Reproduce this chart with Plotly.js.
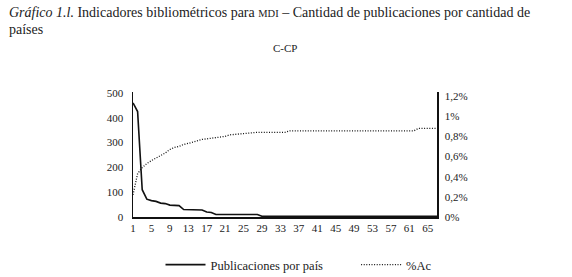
<!DOCTYPE html>
<html>
<head>
<meta charset="utf-8">
<script src="https://cdn.plot.ly/plotly-3.0.1.min.js"></script>
<style>html,body{margin:0;padding:0;background:#fff;}#chart{width:572px;height:277px;}</style>
</head>
<body>
<div id="chart"></div>
<script>
// Countries (rank index)
var countries = [];
for (var i = 1; i <= 67; i++) countries.push(i);

// Publications per country
var publicaciones = [460, 425, 110, 72, 66, 63, 56, 54, 48, 47,
  46, 30, 30, 30, 30, 28, 20, 18, 10, 10,
  10, 10, 10, 10, 10, 10, 10, 10, 3, 3,
  3, 3, 3, 3, 3, 3, 3, 3, 3, 3,
  3, 3, 3, 3, 3, 3, 3, 3, 3, 3,
  3, 3, 3, 3, 3, 3, 3, 3, 3, 3,
  3, 3, 3, 3, 3, 3, 3];

// Cumulative % (right axis)
var pctAc = [0.22, 0.43, 0.49, 0.53, 0.56, 0.585, 0.605, 0.635, 0.67, 0.69,
  0.70, 0.72, 0.73, 0.745, 0.755, 0.77, 0.775, 0.78, 0.79, 0.79,
  0.80, 0.815, 0.82, 0.82, 0.83, 0.835, 0.84, 0.84, 0.84, 0.84,
  0.84, 0.84, 0.84, 0.84, 0.855, 0.855, 0.855, 0.855, 0.855, 0.855,
  0.855, 0.855, 0.855, 0.855, 0.855, 0.855, 0.855, 0.855, 0.855, 0.855,
  0.855, 0.855, 0.855, 0.855, 0.855, 0.855, 0.855, 0.855, 0.855, 0.855,
  0.855, 0.855, 0.88, 0.88, 0.88, 0.88, 0.88];

var xTicks = [1, 5, 9, 13, 17, 21, 25, 29, 33, 37, 41, 45, 49, 53, 57, 61, 65];
var yLeftTicks = [0, 100, 200, 300, 400, 500];
var yRightTicks = [0, 0.2, 0.4, 0.6, 0.8, 1.0, 1.2];
var yRightLabels = ['0%', '0,2%', '0,4%', '0,6%', '0,8%', '1%', '1,2%'];

var serif = 'Liberation Serif, Times New Roman, serif';
var pad = '\u00a0\u00a0\u00a0\u00a0\u00a0\u00a0\u00a0\u00a0\u00a0';

var traces = [
  {x: countries, y: publicaciones, type: 'scatter', mode: 'lines',
   name: 'Publicaciones por país' + pad, line: {color: '#111', width: 1.6}, yaxis: 'y'},
  {x: countries, y: pctAc, type: 'scatter', mode: 'lines',
   name: '%Ac', line: {color: '#111', width: 1.3, dash: '1px,1.6px'}, yaxis: 'y2'}
];

var layout = {
  width: 572, height: 277,
  margin: {l: 133, r: 135, t: 92, b: 60},
  paper_bgcolor: '#fff', plot_bgcolor: '#fff',
  font: {family: serif, color: '#222', size: 11},
  annotations: [{
    text: '<i>Gráfico 1.l.</i> Indicadores bibliométricos para <span style="font-size:10.5px">MDI</span> – Cantidad de publicaciones por cantidad de',
    xref: 'paper', yref: 'paper', x: (7 - 133) / 304, y: (217 - 12) / 125,
    xanchor: 'left', yanchor: 'middle', showarrow: false,
    font: {family: serif, size: 14, color: '#222'}
  }, {
    text: 'países',
    xref: 'paper', yref: 'paper', x: (7 - 133) / 304, y: (217 - 29) / 125,
    xanchor: 'left', yanchor: 'middle', showarrow: false,
    font: {family: serif, size: 14, color: '#222'}
  }, {
    text: 'C-CP', xref: 'paper', yref: 'paper', x: 0.5, y: (217 - 48) / 125,
    xanchor: 'center', yanchor: 'middle', showarrow: false,
    font: {family: serif, size: 11, color: '#222'}
  }],
  xaxis: {
    range: [1, 67], tickvals: xTicks, ticktext: xTicks.map(String), automargin: false,
    showgrid: false, zeroline: false, showline: true, linecolor: '#111', linewidth: 1.5,
    ticks: '', tickfont: {family: serif, size: 11, color: '#222'}, fixedrange: true
  },
  yaxis: {
    range: [0, 504], tickvals: yLeftTicks, ticktext: yLeftTicks.map(String), automargin: false,
    showgrid: false, zeroline: false, showline: true, linecolor: '#111', linewidth: 1.5,
    ticks: '', ticklabelstandoff: 6, tickfont: {family: serif, size: 11, color: '#222'}
  },
  yaxis2: {
    overlaying: 'y', side: 'right', range: [0, 1.24], automargin: false,
    tickvals: yRightTicks, ticktext: yRightLabels,
    showgrid: false, zeroline: false, showline: true, linecolor: '#111', linewidth: 1.5,
    ticks: '', ticklabelstandoff: 4, tickfont: {family: serif, size: 11, color: '#222'}
  },
  showlegend: true,
  legend: {orientation: 'h', x: 0.5 + 14 / 304, xanchor: 'center', xref: 'paper',
    y: 1 - 265 / 277, yanchor: 'middle', yref: 'container',
    font: {family: serif, size: 12.5, color: '#222'}, itemwidth: 40, traceorder: 'normal'}
};

Plotly.newPlot('chart', traces, layout, {displayModeBar: false, staticPlot: true});
</script>
</body>
</html>
